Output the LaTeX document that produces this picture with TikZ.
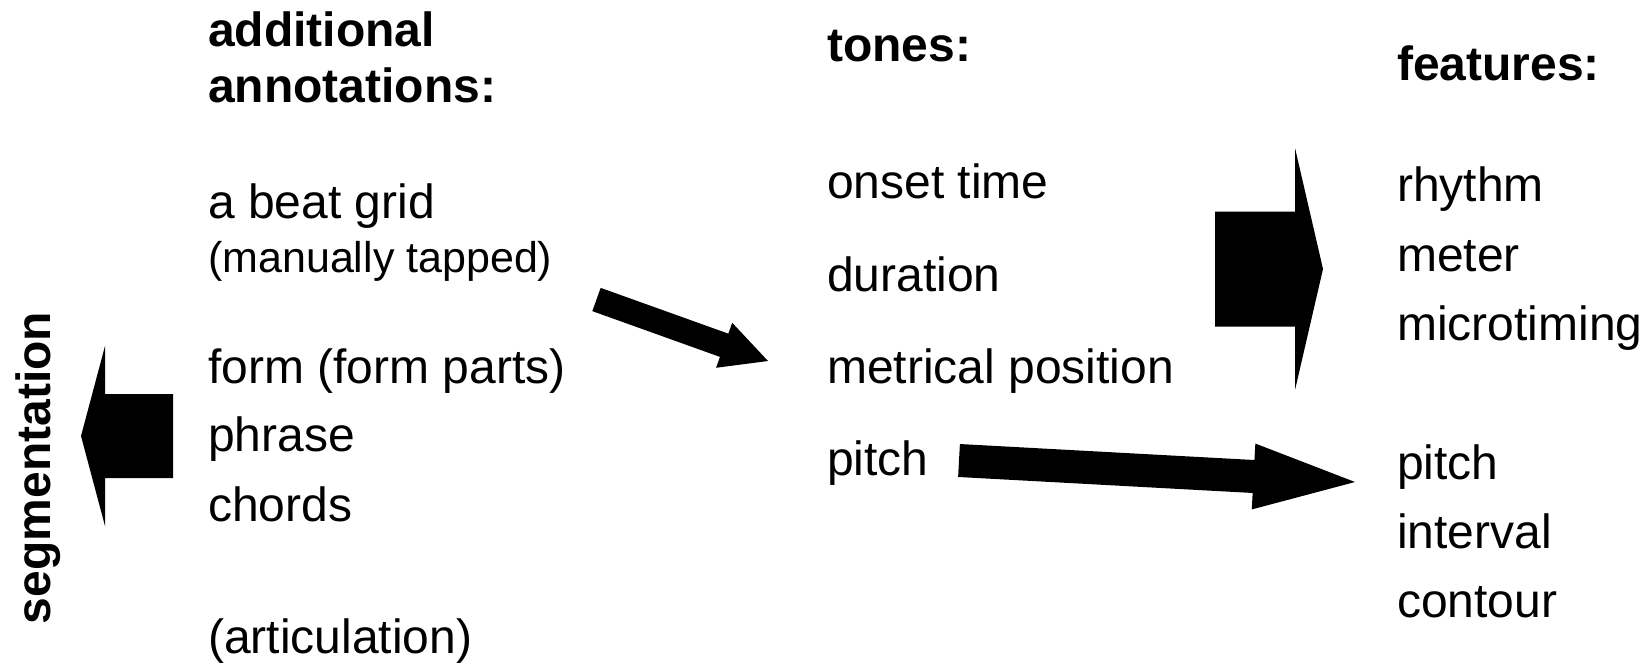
\documentclass[tikz,border=0pt]{standalone}
\usepackage{fontspec}
\setmainfont{Liberation Sans}
\usetikzlibrary{calc}

\tikzset{
  lbl/.style={anchor=base west, inner sep=0pt, font=\fontsize{48}{57}\selectfont},
  head/.style={lbl, font=\fontsize{48}{57}\selectfont\bfseries},
  small/.style={lbl, font=\fontsize{43}{51}\selectfont},
  arrowfill/.style={fill=black, draw=none},
}

% block arrow: tail, tip, half shaft width, half head width, head length
\newcommand\blockarrow[5]{%
  \coordinate (ba-base) at ($(#2)!#5!(#1)$);
  \fill[arrowfill]
    ($(#1)!#3!90:(#2)$) -- ($(ba-base)!#3!-90:(#1)$) --
    ($(ba-base)!#4!-90:(#1)$) -- (#2) --
    ($(ba-base)!#4!90:(#1)$) -- ($(ba-base)!#3!90:(#1)$) --
    ($(#1)!#3!-90:(#2)$) -- cycle;
}

\begin{document}
\begin{tikzpicture}[x=1pt, y=-1pt]
\useasboundingbox (0,0) rectangle (1644,664);

% left column: additional annotations
\node[head] (addA) at (208,46)  {additional};
\node[head] (addB) at (208,102) {annotations:};
\node[lbl]  (grid) at (208,218) {a beat grid};
\node[small] (tap) at (208,272) {(manually tapped)};
\node[lbl]  (form) at (208,383) {form (form parts)};
\node[lbl]  (phr)  at (208,451) {phrase};
\node[lbl]  (chd)  at (208,521) {chords};
\node[lbl]  (art)  at (208,653) {(articulation)};

% vertical label
\node[inner sep=0pt, anchor=base, rotate=90,
      font=\fontsize{48}{57}\selectfont\bfseries] (seg) at (50,468) {segmentation};

% middle column: tones
\node[head] (tones) at (827,61)  {tones:};
\node[lbl]  (ons)   at (827,198) {onset time};
\node[lbl]  (dur)   at (827,291) {duration};
\node[lbl]  (met)   at (827,383) {metrical position};
\node[lbl]  (tpit)  at (827,475) {pitch};

% right column: features
\node[head] (feat)  at (1397,80)  {features:};
\node[lbl]  (rhy)   at (1397,201) {rhythm};
\node[lbl]  (mtr)   at (1397,271) {meter};
\node[lbl]  (mic)   at (1397,340) {microtiming};
\node[lbl]  (fpit)  at (1397,479) {pitch};
\node[lbl]  (intv)  at (1397,548) {interval};
\node[lbl]  (cont)  at (1397,617) {contour};

% arrow end points
\coordinate (segTail)  at (173,436);
\coordinate (segTip)   at (81,436);
\coordinate (annTail)  at (596.5,299.5);
\coordinate (annTip)   at (768,361);
\coordinate (featTail) at (1215,269);
\coordinate (featTip)  at (1323,269);
\coordinate (pitTail)  at (959,460.5);
\coordinate (pitTip)   at (1355,482);

\blockarrow{segTail}{segTip}{42pt}{90pt}{24pt}
\blockarrow{annTail}{annTip}{12.35pt}{23.9pt}{46.6pt}
\blockarrow{featTail}{featTip}{57.5pt}{121pt}{28pt}
\blockarrow{pitTail}{pitTip}{16.5pt}{33pt}{101.6pt}
\end{tikzpicture}
\end{document}
